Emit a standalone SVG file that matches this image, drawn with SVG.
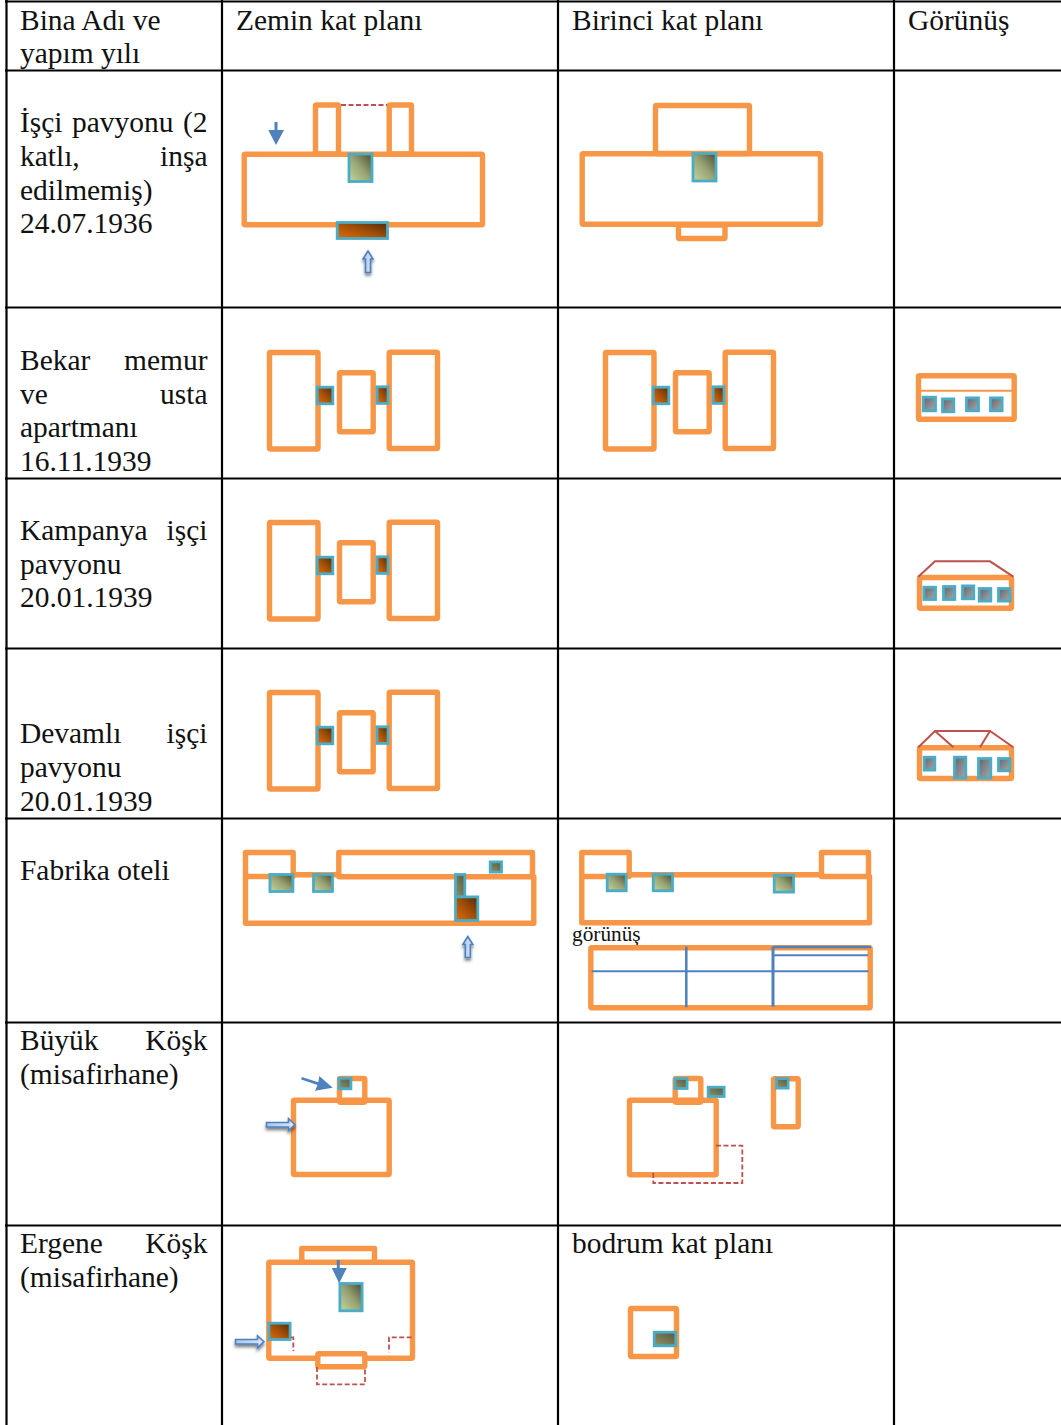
<svg xmlns="http://www.w3.org/2000/svg" xmlns:xlink="http://www.w3.org/1999/xlink" width="1061" height="1425" viewBox="0 0 1061 1425">
<style>
text{font-family:"Liberation Serif","Times New Roman",serif;font-size:29.45px;fill:#111}
.e{text-anchor:end}
.grid line{stroke:#000;stroke-width:2.2}
.w{fill:none;stroke:#f79646;stroke-width:5.4;stroke-linejoin:round}
.wf{fill:#fff;stroke:#f79646;stroke-width:5.4;stroke-linejoin:round}
.o,.or,.s,.g{stroke:#4bacc6;stroke-width:2.8}
.o{fill:url(#olive)}.or{fill:url(#orange)}.s{fill:url(#small)}.g{fill:url(#gray)}
.d{fill:none;stroke:#c0504d;stroke-width:1.8;stroke-dasharray:5 2.5}
.r{fill:none;stroke:#c0504d;stroke-width:2}
.b{fill:#4f81bd}
.bl{fill:none;stroke:#4f81bd}
.h{fill:url(#pale);stroke:#4f81bd;stroke-width:1.6;filter:url(#sh)}
</style>
<defs>
<linearGradient id="olive" x1="0" y1="1" x2="1" y2="0"><stop offset="0" stop-color="#c4d79b"/><stop offset=".5" stop-color="#98a374"/><stop offset="1" stop-color="#4a4c34"/></linearGradient>
<linearGradient id="orange" x1="0" y1="1" x2="1" y2="0"><stop offset="0" stop-color="#e36c0a"/><stop offset=".5" stop-color="#a34f08"/><stop offset="1" stop-color="#4f2a08"/></linearGradient>
<linearGradient id="small" x1="0" y1="1" x2="1" y2="0"><stop offset="0" stop-color="#8f9468"/><stop offset="1" stop-color="#57573f"/></linearGradient>
<linearGradient id="gray" x1="0" y1="0" x2="1" y2="1"><stop offset="0" stop-color="#5f6670"/><stop offset="1" stop-color="#a8a8a8"/></linearGradient>
<linearGradient id="pale" x1="0" y1="0" x2="1" y2="0"><stop offset="0" stop-color="#a9c4f0"/><stop offset="1" stop-color="#dde8fb"/></linearGradient>
<filter id="sh" x="-50%" y="-50%" width="200%" height="200%"><feDropShadow dx="0" dy="2.500" stdDeviation="1.800" flood-color="#000" flood-opacity=".5"/></filter>
<g id="pav">
<rect class="w" x="269.5" y="352.5" width="48.5" height="96.5" rx="1"/>
<rect class="w" x="339.5" y="372.8" width="33.7" height="59" rx="1"/>
<rect class="w" x="389.2" y="352.2" width="48.3" height="96.3" rx="1"/>
<rect class="or" x="317.2" y="387.2" width="15.6" height="16.6"/>
<rect class="or" x="377" y="386.8" width="11" height="16.6"/>
</g>
</defs>
<g id="grid" class="grid">
<line x1="6.5" y1="0" x2="6.5" y2="1425"/><line x1="222" y1="0" x2="222" y2="1425"/><line x1="558" y1="0" x2="558" y2="1425"/><line x1="894" y1="0" x2="894" y2="1425"/>
<line x1="5" y1="1.5" x2="1061" y2="1.5"/><line x1="5" y1="70.5" x2="1061" y2="70.5"/><line x1="5" y1="307.5" x2="1061" y2="307.5"/><line x1="5" y1="478.5" x2="1061" y2="478.5"/><line x1="5" y1="648.5" x2="1061" y2="648.5"/><line x1="5" y1="818.5" x2="1061" y2="818.5"/><line x1="5" y1="1022.5" x2="1061" y2="1022.5"/><line x1="5" y1="1225.5" x2="1061" y2="1225.5"/>
</g>
<g id="labels">
<text x="20" y="30">Bina Adı ve</text><text x="20" y="63">yapım yılı</text>
<text x="236" y="30">Zemin kat planı</text><text x="572" y="30">Birinci kat planı</text><text x="908" y="30">Görünüş</text>
<text x="20" y="132" word-spacing="2.2">İşçi pavyonu (2</text><text x="20" y="166">katlı,</text><text class="e" x="207.500" y="166">inşa</text><text x="20" y="200">edilmemiş)</text><text x="20" y="233">24.07.1936</text>
<text x="20" y="370">Bekar</text><text class="e" x="207.500" y="370">memur</text><text x="20" y="404">ve</text><text class="e" x="207.500" y="404">usta</text><text x="20" y="437">apartmanı</text><text x="20" y="471">16.11.1939</text>
<text x="20" y="540">Kampanya</text><text class="e" x="207.500" y="540">işçi</text><text x="20" y="574">pavyonu</text><text x="20" y="607">20.01.1939</text>
<text x="20" y="743">Devamlı</text><text class="e" x="207.500" y="743">işçi</text><text x="20" y="777">pavyonu</text><text x="20" y="811">20.01.1939</text>
<text x="20" y="880">Fabrika oteli</text>
<text x="20" y="1050">Büyük</text><text class="e" x="207.500" y="1050">Köşk</text><text x="20" y="1084">(misafirhane)</text>
<text x="20" y="1253">Ergene</text><text class="e" x="207.500" y="1253">Köşk</text><text x="20" y="1287">(misafirhane)</text>
<text x="572" y="1253">bodrum kat planı</text>
<text x="572" y="941" style="font-size:21.3px">görünüş</text>
</g>
<g id="isci-zemin">
<rect class="w" x="244.2" y="154.2" width="238.3" height="70.5" rx="1"/>
<rect class="w" x="315.5" y="105" width="23" height="49" rx="1"/>
<rect class="w" x="389.2" y="105" width="22.3" height="49" rx="1"/>
<path class="d" d="M341 105H387"/>
<rect class="o" x="349" y="154" width="23" height="27.5"/>
<rect class="or" x="337.2" y="222.5" width="50.3" height="16"/>
<path class="b" d="M274.500 122h3v8h6.500l-8 15-7.700-15h6.200z"/>
<path class="h" d="M368 251l5 8h-2.500v13.500h-5V259H363z"/>
</g>
<g id="isci-birinci">
<rect class="w" x="582.200" y="153.800" width="238.300" height="70.500" rx="1"/>
<rect class="w" x="655.500" y="105.500" width="94" height="48" rx="1"/>
<rect class="w" x="678.500" y="225" width="46.500" height="13.500" rx="1"/>
<rect class="o" x="693" y="153.500" width="23" height="27.500"/>
</g>
<g id="bekar-zemin"><use xlink:href="#pav" href="#pav"/></g>
<g id="bekar-birinci"><use xlink:href="#pav" href="#pav" x="336"/></g>
<g id="bekar-gorunus">
<rect class="w" x="918.500" y="375.800" width="95.700" height="43.400" rx="1"/>
<path d="M919 390.700H1014" fill="none" stroke="#f79646" stroke-width="2"/>
<rect class="g" x="923.200" y="397.200" width="12.300" height="13.600"/>
<rect class="g" x="942.500" y="398.900" width="11.300" height="12.900"/>
<rect class="g" x="966.500" y="397.900" width="12" height="12.900"/>
<rect class="g" x="990.500" y="397.900" width="11.600" height="12.900"/>
</g>
<g id="kampanya-zemin"><use xlink:href="#pav" href="#pav" y="170"/></g>
<g id="kampanya-gorunus">
<rect class="w" x="919.500" y="577.500" width="92" height="30.700" rx="1"/>
<path class="r" d="M918.300 576.700L935 561.300H990L1013.300 576.700"/>
<rect class="g" x="923.900" y="587.200" width="11.600" height="12.300"/>
<rect class="g" x="943.500" y="586.500" width="11.300" height="13"/>
<rect class="g" x="962.500" y="585.900" width="11.300" height="12.900"/>
<rect class="g" x="979.200" y="588.500" width="11.600" height="12.600"/>
<rect class="g" x="998.500" y="588.500" width="11.600" height="12.600"/>
</g>
<g id="devamli-zemin"><use xlink:href="#pav" href="#pav" y="340"/></g>
<g id="devamli-gorunus">
<rect class="w" x="919.500" y="747.800" width="92" height="30.700" rx="1"/>
<path class="r" d="M918.300 747.300L935 731H990L1013.300 747.300M935 731L953.300 747.300M990 731L980 747.300"/>
<rect class="g" x="924.200" y="757.200" width="10.600" height="12.900"/>
<rect class="g" x="954.500" y="757.200" width="11.300" height="20.900"/>
<rect class="g" x="978.500" y="758.500" width="12.300" height="19.600"/>
<rect class="g" x="998.500" y="758.500" width="11.300" height="12.300"/>
</g>
<g id="fabrika-zemin">
<path class="w" d="M245.500 876.500V852.500H293.200V876"/>
<path class="w" d="M338.800 875V852.500H532.500V876.800"/>
<path class="w" d="M245.500 876.500H293V874.800H339V876.800H533.800V923.200H245.500Z"/>
<rect class="o" x="269.900" y="874.500" width="23" height="17"/>
<rect class="o" x="313.500" y="874.500" width="19" height="17"/>
<rect class="s" x="490.200" y="861.900" width="11.300" height="10.200"/>
<rect class="s" x="455.500" y="874.500" width="9.300" height="22.600"/>
<rect class="or" x="455.500" y="896.900" width="22.300" height="23.600"/>
<path class="h" d="M467.800 936.500l5 8h-2.500v13h-5v-13h-2.500z"/>
</g>
<g id="fabrika-birinci">
<path class="w" d="M581.800 876.500V852.500H629.200V875.500"/>
<path class="w" d="M821.500 876V852.500H868.500V876.500"/>
<path class="w" d="M581.800 876.500H629V874.700H821.500V876.500H869.500V922.800H581.800Z"/>
<rect class="o" x="607.200" y="874.200" width="19" height="16.600"/>
<rect class="o" x="653.200" y="874.200" width="19.300" height="16.600"/>
<rect class="o" x="774.200" y="875.200" width="19.300" height="16.900"/>
</g>
<g id="fabrika-gorunus">
<rect class="w" x="590.800" y="947.800" width="279.400" height="60" rx="1"/>
<path class="bl" stroke-width="2" d="M591.700 971.300H868.300M773 955.300H868"/>
<path class="bl" stroke-width="2.500" d="M686.300 946.700V1007.300M773 947H871"/>
<path class="bl" stroke-width="3" d="M773 946.700V1006.700"/>
</g>
<g id="buyuk-zemin">
<rect class="w" x="293.500" y="1100.200" width="95.700" height="74.300" rx="1"/>
<rect class="w" x="339.500" y="1078.500" width="25.300" height="23.700" rx="1"/>
<rect class="s" x="338.900" y="1078.200" width="12" height="10.600"/>
<path class="b" d="M301.800 1077L301.200 1079.400L317.500 1085L315 1090.700L332.700 1087.700L319.300 1076L318.300 1082.300Z"/>
<path class="h" d="M266.500 1122.500h22V1118.500L295 1124.700L288.500 1130.500v-3.500h-22z"/>
</g>
<g id="buyuk-birinci">
<rect class="w" x="629.500" y="1100.200" width="86.700" height="74.600" rx="1"/>
<rect class="w" x="675.200" y="1078.500" width="25.600" height="23.700" rx="1"/>
<rect class="w" x="773.500" y="1078.800" width="24.700" height="48" rx="1"/>
<rect class="s" x="674.900" y="1078.500" width="12.200" height="10"/>
<rect class="s" x="708.200" y="1087.200" width="15.900" height="9.300"/>
<rect class="s" x="776.500" y="1078.500" width="11.600" height="9.600"/>
<path class="d" d="M716 1145.700H742.300V1183H653.300V1171"/>
</g>
<g id="ergene-zemin">
<path class="w" d="M301.800 1262V1248.500H374.500V1262"/>
<rect class="w" x="268.800" y="1262.200" width="143.700" height="96" rx="1"/>
<rect class="wf" x="317.800" y="1353.800" width="47" height="13" rx="1"/>
<rect class="o" x="339.900" y="1283.500" width="22.200" height="27.300"/>
<rect class="or" x="268.900" y="1323.200" width="21.200" height="16.300"/>
<path class="d" d="M291 1337.300H293.300V1351M411.700 1337.300H389V1352.300M317 1367V1384.300H365V1367"/>
<path class="b" d="M336.800 1260h3v8h7l-7.700 15.300-7.300-15.300h5z"/>
<path class="h" d="M235.500 1339.500h22V1335.800L264 1341.700L257.500 1347.800v-3.800h-22z"/>
</g>
<g id="ergene-bodrum">
<rect class="w" x="630.500" y="1308.500" width="46" height="48" rx="1"/>
<rect class="s" x="654.200" y="1332.200" width="21.600" height="13.600"/>
</g>
</svg>
